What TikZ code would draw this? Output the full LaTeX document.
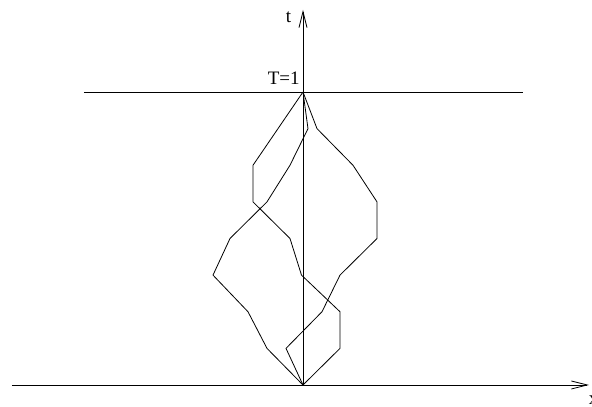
\documentclass[tikz,border=0pt]{standalone}
\usepackage{fontspec}
\setmainfont{Liberation Serif}
\usetikzlibrary{arrows.meta}

\begin{document}
\begin{tikzpicture}[x=1pt,y=36.625pt,line width=0.8pt,>={Straight Barb[length=16pt,width=8pt]},
    lbl/.style={font=\fontsize{19}{22}\selectfont,inner sep=0pt}]
  \useasboundingbox (-303,-0.6007) rectangle (289,10.512);
  % axes and the line t=T
  \draw[->] (-291,0)--(286,0);
  \draw[->] (0,0)--(0,10.239);
  \draw (-219,8)--(220,8);
  \node[lbl,anchor=base west] (xlab) at (285.5,-0.546) {x};
  \node[lbl,anchor=base] (tlab) at (-14.5,9.911) {t};
  \node[lbl,anchor=base east] (Tlab) at (-3,8.218) {T=1};
  % three paths from (0,0) to (0,T)
  \draw (0,0)--(37,1)--(37,2)--(-1.5,3)--(-13,4)--(-50,5)--(-50,6)--(-25,7)--(0,8);
  \draw (0,0)--(-36,1)--(-55,2)--(-90,3)--(-73,4)--(-36,5)--(-13,6)--(5,7)--(0,8);
  \draw (0,0)--(-17,1)--(19,2)--(37,3)--(74,4)--(74,5)--(50,6)--(14,7)--(0,8);
\end{tikzpicture}
\end{document}
